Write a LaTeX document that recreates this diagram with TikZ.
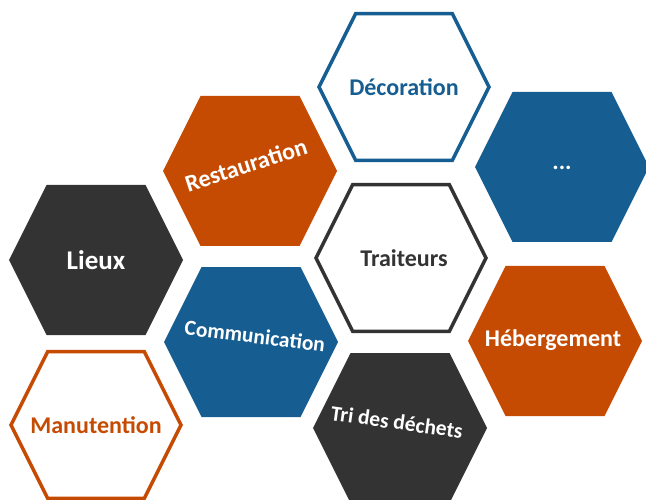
\documentclass[tikz,border=0pt]{standalone}
\usepackage{fontspec}
\setmainfont{Carlito}
\definecolor{hexorange}{RGB}{198,75,2}
\definecolor{hexblue}{RGB}{22,94,146}
\definecolor{hexdark}{RGB}{51,51,51}
\tikzset{
  hexa/.pic={\path[pic actions] (-87,0) -- (-49.5,-75) -- (49.5,-75) -- (87,0) -- (49.5,75) -- (-49.5,75) -- cycle;},
  hexfill/.style={fill=#1, draw=none},
  hexline/.style={draw=#1, fill=white, line width=3.5pt, line join=miter, scale=0.977},
  lbl/.style={font=\bfseries\fontsize{24}{28}\selectfont, text=#1, inner sep=0pt},
  lblbig/.style={font=\bfseries\fontsize{27}{30}\selectfont, text=#1, inner sep=0pt},
  lblsmall/.style={font=\bfseries\fontsize{21.5}{26}\selectfont, text=#1, inner sep=0pt},
}
\begin{document}
\begin{tikzpicture}[x=1pt,y=-1pt]
\useasboundingbox (0,0) rectangle (646,500);
% hexagons
\pic[hexline=hexblue] at (404,87) {hexa};
\pic[hexfill=hexorange] at (250,171) {hexa};
\pic[hexfill=hexblue] at (562,167) {hexa};
\pic[hexfill=hexdark] at (96,260) {hexa};
\pic[hexline=hexdark] at (401,258) {hexa};
\pic[hexfill=hexblue] at (251,342) {hexa};
\pic[hexfill=hexorange] at (555,341) {hexa};
\pic[hexline=hexorange] at (96,425) {hexa};
\pic[hexfill=hexdark] at (400,428) {hexa};
% labels
\node[lbl=hexblue] (deco) at (404,87) {Décoration};
\node[lbl=white, rotate=18] (resto) at (246,165) {Restauration};
\node[lbl=white] (etc) at (562,168) {...};
\node[lblbig=white] (lieux) at (96,260) {Lieux};
\node[lbl=hexdark] (trait) at (404,258) {Traiteurs};
\node[lblsmall=white, rotate=-7] (comm) at (255,336) {Communication};
\node[lbl=white] (heberg) at (553,340) {Hébergement};
\node[lbl=hexorange] (manut) at (96,425) {Manutention};
\node[lblsmall=white, rotate=-8] (tri) at (397,422) {Tri des déchets};
\end{tikzpicture}
\end{document}
